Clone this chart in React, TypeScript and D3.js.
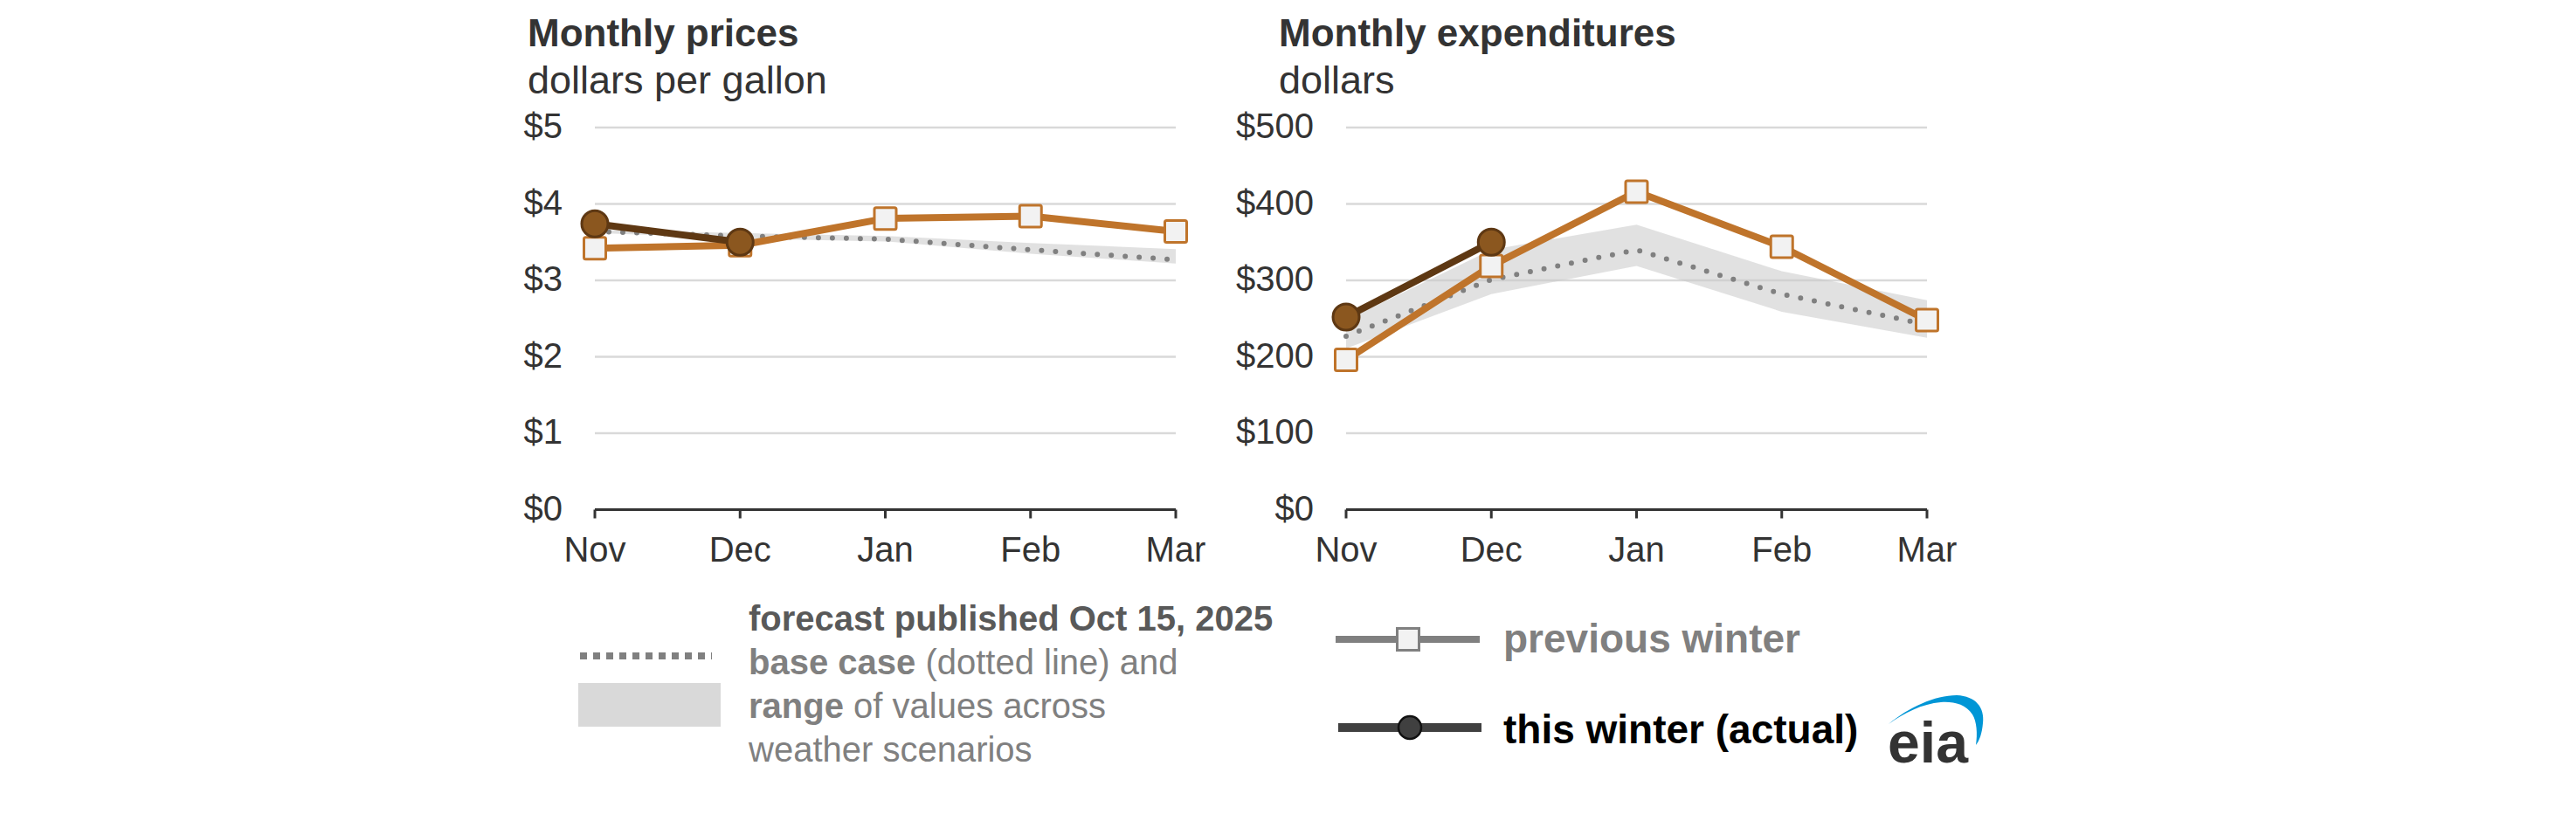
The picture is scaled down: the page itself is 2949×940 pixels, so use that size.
import React from 'react';
import * as d3 from 'd3';

const months = ['Nov', 'Dec', 'Jan', 'Feb', 'Mar'];

const priceTicks = [0, 1, 2, 3, 4, 5];
const pricePrev = [3.42, 3.46, 3.81, 3.84, 3.64];
const priceThis = [3.74, 3.5];
const priceBase = [3.64, 3.58, 3.54, 3.4, 3.27];
const priceLow = [3.62, 3.55, 3.51, 3.35, 3.22];
const priceHigh = [3.66, 3.62, 3.58, 3.49, 3.41];

const expTicks = [0, 100, 200, 300, 400, 500];
const expPrev = [196, 319, 416, 344, 248];
const expThis = [252, 350];
const expBase = [227, 301, 340, 282, 242];
const expLow = [211, 282, 319, 259, 225];
const expHigh = [248, 340, 373, 312, 274];

const FONT = 'Arial, "Liberation Sans", Helvetica, sans-serif';
const ORANGE = '#BF742B';
const BROWN = '#5E3813';
const BROWN_FILL = '#8B571F';

type PanelProps = {
  x0: number;
  title: string;
  subtitle: string;
  ticks: number[];
  max: number;
  prev: number[];
  cur: number[];
  base: number[];
  low: number[];
  high: number[];
};

function Panel({ x0, title, subtitle, ticks, max, prev, cur, base, low, high }: PanelProps) {
  const plotLeft = x0 + 77;
  const plotRight = plotLeft + 665;
  const x = d3.scalePoint<string>().domain(months).range([plotLeft, plotRight]);
  const y = d3.scaleLinear().domain([0, max]).range([583.5, 146]);

  const line = d3
    .line<number>()
    .x((_, i) => x(months[i]) as number)
    .y((d) => y(d));
  const area = d3
    .area<number>()
    .x((_, i) => x(months[i]) as number)
    .y0((_, i) => y(low[i]))
    .y1((_, i) => y(high[i]));

  return (
    <g>
      <text x={x0} y={53} fontFamily={FONT} fontWeight="bold" fontSize={44} fill="#333">
        {title}
      </text>
      <text x={x0} y={107} fontFamily={FONT} fontSize={45} fill="#333">
        {subtitle}
      </text>
      {ticks.map((t) => (
        <g key={t}>
          {t > 0 && (
            <line x1={plotLeft} x2={plotRight} y1={y(t)} y2={y(t)} stroke="#d9d9d9" strokeWidth={2.5} />
          )}
          <text
            x={plotLeft - 37}
            y={y(t) + 12}
            textAnchor="end"
            fontFamily={FONT}
            fontSize={40}
            fill="#333"
          >
            {'$' + t}
          </text>
        </g>
      ))}
      <path d={area(base) || ''} fill="#c8c8c8" fillOpacity={0.55} />
      <line x1={plotLeft} x2={plotRight} y1={y(0)} y2={y(0)} stroke="#333" strokeWidth={3} />
      {months.map((m) => (
        <g key={m}>
          <line x1={x(m)} x2={x(m)} y1={y(0)} y2={y(0) + 10} stroke="#333" strokeWidth={3} />
          <text x={x(m)} y={643} textAnchor="middle" fontFamily={FONT} fontSize={40} fill="#333">
            {m}
          </text>
        </g>
      ))}
      <path
        d={line(base) || ''}
        fill="none"
        stroke="#808080"
        strokeWidth={6}
        strokeDasharray="0 16"
        strokeLinecap="round"
      />
      <path d={line(prev) || ''} fill="none" stroke={ORANGE} strokeWidth={8} strokeLinejoin="round" />
      {prev.map((v, i) => (
        <rect
          key={i}
          x={(x(months[i]) as number) - 12.5}
          y={y(v) - 12.5}
          width={25}
          height={25}
          rx={2}
          fill="#f2f2f2"
          stroke={ORANGE}
          strokeWidth={3}
        />
      ))}
      <path d={line(cur) || ''} fill="none" stroke={BROWN} strokeWidth={8} strokeLinejoin="round" />
      {cur.map((v, i) => (
        <circle
          key={i}
          cx={x(months[i]) as number}
          cy={y(v)}
          r={15}
          fill={BROWN_FILL}
          stroke={BROWN}
          strokeWidth={3}
        />
      ))}
    </g>
  );
}

function Legend() {
  return (
    <g fontFamily={FONT}>
      <line x1={664} x2={815} y1={751} y2={751} stroke="#808080" strokeWidth={8} strokeDasharray="8 7" />
      <rect x={662} y={782} width={163} height={50} fill="#d9d9d9" />
      <text x={857} y={722} fontSize={40} fontWeight="bold" fill="#595959">
        forecast published Oct 15, 2025
      </text>
      <text x={857} y={772} fontSize={40} fill="#808080">
        <tspan fontWeight="bold">base case</tspan> (dotted line) and
      </text>
      <text x={857} y={822} fontSize={40} fill="#808080">
        <tspan fontWeight="bold">range</tspan> of values across
      </text>
      <text x={857} y={872} fontSize={40} fill="#808080">
        weather scenarios
      </text>

      <line x1={1529} x2={1694} y1={732} y2={732} stroke="#808080" strokeWidth={8} />
      <rect x={1599.5} y={719.5} width={25} height={25} fill="#f2f2f2" stroke="#808080" strokeWidth={3} />
      <text x={1721} y={747} fontSize={46} fontWeight="bold" fill="#808080">
        previous winter
      </text>

      <line x1={1532} x2={1696} y1={833} y2={833} stroke="#404040" strokeWidth={10} />
      <circle cx={1614} cy={833} r={13} fill="#404040" stroke="#111" strokeWidth={2.5} />
      <text x={1721} y={851} fontSize={46} fontWeight="bold" fill="#000">
        this winter (actual)
      </text>

      <path
        d="M 2162,829 C 2185,810 2215,796 2240,796 C 2262,797 2272,810 2270,828 C 2269,840 2266,848 2262,853 C 2264,840 2263,826 2258,818 C 2250,806 2236,803 2222,804 C 2200,806 2180,816 2162,829 Z"
        fill="#0096D6"
      />
      <text x={2161} y={873} fontSize={66} fontWeight="bold" fill="#333" textLength={92} lengthAdjust="spacingAndGlyphs">
        eia
      </text>
    </g>
  );
}

export default function App() {
  return (
    <svg
      width={2949}
      height={940}
      style={{ position: 'fixed', left: 0, top: 0, background: '#fff', display: 'block' }}
    >
      <rect width={2949} height={940} fill="#fff" />
      <Panel
        x0={604}
        title="Monthly prices"
        subtitle="dollars per gallon"
        ticks={priceTicks}
        max={5}
        prev={pricePrev}
        cur={priceThis}
        base={priceBase}
        low={priceLow}
        high={priceHigh}
      />
      <Panel
        x0={1464}
        title="Monthly expenditures"
        subtitle="dollars"
        ticks={expTicks}
        max={500}
        prev={expPrev}
        cur={expThis}
        base={expBase}
        low={expLow}
        high={expHigh}
      />
      <Legend />
    </svg>
  );
}
